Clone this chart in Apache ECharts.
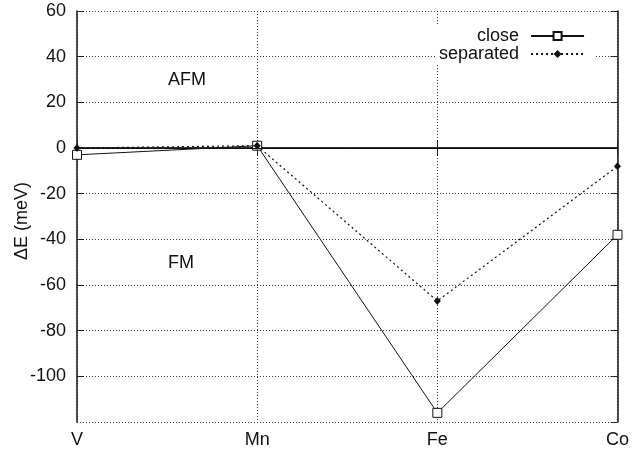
<!DOCTYPE html>
<html>
<head>
<meta charset="utf-8">
<script src="https://cdn.jsdelivr.net/npm/echarts@6/dist/echarts.min.js"></script>
<style>html,body{margin:0;padding:0;background:#fff;}#c{width:632px;height:455px;}</style>
</head>
<body>
<div id="c"></div>
<script>
var categories = ['V', 'Mn', 'Fe', 'Co'];
var closeValues = [-3, 1, -116, -38];
var separatedValues = [0, 1, -67, -8];
var yTicks = { min: -120, max: 60, interval: 20 };
var yTitle = 'ΔE (meV)';
var regionLabels = ['AFM', 'FM'];

var FONT = '"Liberation Sans", Arial, sans-serif';
var chart = echarts.init(document.getElementById('c'), null, { renderer: 'canvas' });
var gridLine = { show: true, lineStyle: { color: '#333', width: 1, type: [1, 2] } };
var axisLineStyle = { color: '#222', width: 1.6 };

chart.setOption({
  animation: false,
  backgroundColor: '#fff',
  grid: { left: 77, right: 9, top: 11, bottom: 33, containLabel: false },
  legend: {
    orient: 'vertical',
    align: 'right',
    left: 435,
    top: 25,
    padding: [2, 11, 2, 4],
    itemGap: 0,
    itemWidth: 53,
    itemHeight: 10,
    backgroundColor: '#fff',
    textStyle: { fontFamily: FONT, fontSize: 18, color: '#111', padding: [0, 7, 0, 0], lineHeight: 18 },
    data: ['close', 'separated']
  },
  xAxis: [{
    type: 'category',
    data: categories,
    boundaryGap: false,
    axisLine: { show: true, lineStyle: axisLineStyle },
    axisTick: { show: true, inside: true, length: 7, lineStyle: { color: '#222' } },
    axisLabel: { fontFamily: FONT, fontSize: 18, color: '#111', margin: 9, showMaxLabel: true },
    splitLine: gridLine
  }, {
    type: 'category',
    data: categories,
    position: 'top',
    boundaryGap: false,
    axisLine: { show: true, lineStyle: axisLineStyle },
    axisTick: { show: true, inside: true, length: 7, lineStyle: { color: '#222' } },
    axisLabel: { show: false },
    splitLine: { show: false }
  }],
  yAxis: [{
    type: 'value',
    min: yTicks.min, max: yTicks.max, interval: yTicks.interval,
    axisLine: { show: true, onZero: false, lineStyle: axisLineStyle },
    axisTick: { show: true, inside: true, length: 7, lineStyle: { color: '#222' } },
    axisLabel: { fontFamily: FONT, fontSize: 18, color: '#111', margin: 11, showMinLabel: false },
    splitLine: gridLine
  }, {
    type: 'value',
    position: 'right',
    min: yTicks.min, max: yTicks.max, interval: yTicks.interval,
    axisLine: { show: true, onZero: false, lineStyle: axisLineStyle },
    axisTick: { show: true, inside: true, length: 7, lineStyle: { color: '#222' } },
    axisLabel: { show: false },
    splitLine: { show: false }
  }],
  series: [{
    name: 'close',
    type: 'line',
    data: closeValues,
    symbol: 'rect',
    symbolSize: 9,
    showAllSymbol: true,
    lineStyle: { color: '#111', width: 1, type: 'solid' },
    itemStyle: { color: '#fff', borderColor: '#111', borderWidth: 1 },
    z: 3,
    markLine: {
      silent: true,
      symbol: 'none',
      label: { show: false },
      lineStyle: { color: '#111', width: 1, type: 'solid' },
      data: [{ yAxis: 0 }]
    }
  }, {
    name: 'separated',
    type: 'line',
    data: separatedValues,
    symbol: 'diamond',
    symbolSize: [7, 8],
    showAllSymbol: true,
    lineStyle: { color: '#111', width: 1.2, type: [2, 3] },
    itemStyle: { color: '#111' },
    z: 4
  }],
  graphic: [{
    type: 'text',
    x: 22, y: 221,
    rotation: Math.PI / 2,
    style: { text: yTitle, font: '18px ' + FONT, fill: '#111', align: 'center', verticalAlign: 'middle' }
  }, {
    type: 'text',
    x: 187, y: 80,
    style: { text: regionLabels[0], font: '18px ' + FONT, fill: '#111', align: 'center', verticalAlign: 'middle' }
  }, {
    type: 'text',
    x: 181, y: 263,
    style: { text: regionLabels[1], font: '18px ' + FONT, fill: '#111', align: 'center', verticalAlign: 'middle' }
  }]
});
</script>
</body>
</html>
